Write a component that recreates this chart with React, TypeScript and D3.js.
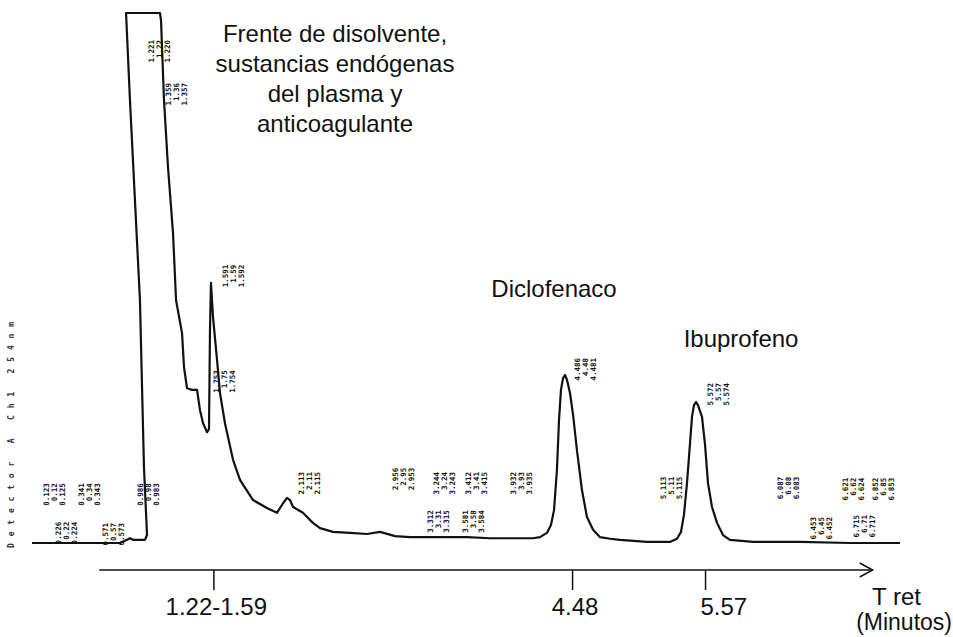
import React from "react";
import * as d3 from "d3";

// Retention time (min) and detector signal (% of full scale)
const times = [
  0.049, 0.279, 0.525, 0.77, 0.828, 0.852, 0.877, 0.975, 0.992, 0.967, 0.934, 0.893, 0.852, 0.82,
  1.098, 1.107, 1.131, 1.164, 1.205, 1.23, 1.279, 1.295, 1.32, 1.361, 1.402, 1.426, 1.451, 1.484,
  1.5, 1.508, 1.516, 1.533, 1.566, 1.59, 1.631, 1.648, 1.697, 1.754, 1.861, 1.975, 2.057, 2.107,
  2.139, 2.164, 2.189, 2.27, 2.352, 2.41, 2.516, 2.656, 2.795, 2.902, 3.025, 3.148, 3.393, 3.615,
  3.803, 4.156, 4.213, 4.27, 4.303, 4.328, 4.352, 4.369, 4.385, 4.402, 4.418, 4.434, 4.459, 4.484,
  4.516, 4.557, 4.598, 4.648, 4.705, 4.787, 4.869, 5.09, 5.279, 5.336, 5.369, 5.393, 5.418, 5.443,
  5.459, 5.475, 5.492, 5.508, 5.541, 5.566, 5.59, 5.623, 5.664, 5.713, 5.77, 5.959, 6.344, 6.754,
  7.164,
];
const signal = [
  0, 0, 0, 0, 0.6, 0.9, 0.6, 0.6, 1.5, 14.3, 45.8, 64.7, 83.6, 100,
  100, 98.5, 83.6, 70.9, 58.5, 45.8, 39.6, 33.2, 29.2, 28.9, 28.9, 25.1, 22.6, 20.9,
  21.5, 40, 49.1, 42.6, 34.5, 28.3, 22.6, 20.8, 15.7, 11.9, 8.1, 6.6, 5.7, 7.5,
  8.5, 8.1, 6.8, 5.7, 3.8, 2.8, 2.1, 1.9, 1.7, 2.1, 1.3, 1.1, 1.1, 1.1,
  0.9, 0.9, 1.1, 1.9, 3.4, 6.2, 13.8, 23.2, 28.9, 31.1, 31.7, 30.8, 28.3, 24.2,
  17.5, 10.0, 4.9, 2.5, 1.1, 0.8, 0.6, 0.2, 0.2, 0.8, 2.1, 5.3, 11.3, 18.9,
  23.8, 26.0, 26.6, 26.0, 23.8, 18.5, 11.3, 6.8, 3.8, 1.5, 0.6, 0.2, 0.2, 0,
  0,
];

// x-axis ticks
const tickTimes = [1.54, 4.48, 5.57];
const tickLabels = ["1.22-1.59", "4.48", "5.57"];
const tickLabelTimes = [1.56, 4.5, 5.72];

// Compound labels
const compoundLines = [
  ["Frente de disolvente,", "sustancias endógenas", "del plasma y", "anticoagulante"],
  ["Diclofenaco"],
  ["Ibuprofeno"],
];
const compoundTimes = [2.533, 4.328, 5.861];
const compoundLevels = [94.5, 46.4, 37.0];

// Integrator retention-time printouts (rotated, small)
const annotTimes = [
  1.0, 1.139, 1.607, 1.533, 2.23, 3.0, 3.336, 3.6, 3.287, 3.574, 3.967, 4.492, 5.197, 5.582,
  6.156, 6.689, 6.934, 6.426, 6.779, 0.139, 0.426, 0.91, 0.238, 0.623,
];
const annotLevels = [
  94.9, 86.8, 52.5, 32.6, 13.4, 14.2, 13.4, 13.4, 6.2, 6.2, 13.4, 34.9, 12.5, 30.2,
  12.5, 12.3, 12.3, 4.9, 5.3, 11.3, 11.3, 11.3, 4.0, 3.8,
];
const annotTexts = [
  "1.221|1.22|1.220", "1.359|1.36|1.357", "1.591|1.59|1.592", "1.753|1.75|1.754",
  "2.113|2.11|2.115", "2.956|2.95|2.953", "3.244|3.24|3.243", "3.412|3.41|3.415",
  "3.312|3.31|3.315", "3.581|3.58|3.584", "3.932|3.93|3.935", "4.486|4.48|4.481",
  "5.113|5.11|5.115", "5.572|5.57|5.574", "6.087|6.08|6.083", "6.621|6.62|6.624",
  "6.852|6.85|6.853", "6.453|6.45|6.452", "6.715|6.71|6.717", "0.123|0.12|0.125",
  "0.341|0.34|0.343", "0.986|0.98|0.983", "0.226|0.22|0.224", "0.571|0.57|0.573",
];

const axisStart = 0.6;
const axisEnd = 6.94;

const W = 953;
const H = 637;
const AXIS_Y = 570;
const FONT = "'Liberation Sans', Arial, sans-serif";

export default function App() {
  const x = d3.scaleLinear().domain([0, 7]).range([26, 880]);
  const y = d3.scaleLinear().domain([0, 100]).range([543, 13]);

  const idx = d3.range(times.length);
  const line = d3
    .line<number>()
    .x((i) => x(times[i]))
    .y((i) => y(signal[i]))
    .curve(d3.curveLinear);

  const ax0 = x(axisStart);
  const ax1 = x(axisEnd);

  return (
    <svg
      width={W}
      height={H}
      style={{ position: "absolute", left: 0, top: 0, background: "#fff" }}
    >
      <rect width={W} height={H} fill="#fff" />

      {/* far-left faded vertical printout */}
      <text
        transform={`translate(14,548) rotate(-90)`}
        fontFamily="'DejaVu Sans Mono', monospace"
        fontSize={8}
        fontWeight="bold"
        fill="#333"
        textLength={226}
        lengthAdjust="spacing"
      >
        Detector A Ch1 254nm
      </text>

      {/* integrator annotations */}
      {annotTexts.map((s, k) => (
        <text
          key={k}
          transform={`translate(${x(annotTimes[k])},${y(annotLevels[k])}) rotate(-90)`}
          textAnchor="end"
          fontFamily="'DejaVu Sans Mono', monospace"
          fontSize={7.5}
          fontWeight="bold"
          fill="#111"
        >
          {s.split("|").map((l, j) => (
            <tspan key={j} x={0} dy={j === 0 ? 6 : 8}>
              {l}
            </tspan>
          ))}
        </text>
      ))}

      {/* chromatogram trace */}
      <path
        d={line(idx) || ""}
        fill="none"
        stroke="#111"
        strokeWidth={2.2}
        strokeLinejoin="round"
      />

      {/* x axis with arrow */}
      <line x1={ax0} y1={AXIS_Y} x2={ax1} y2={AXIS_Y} stroke="#111" strokeWidth={1.5} />
      <polyline
        points={`${ax1 - 13},${AXIS_Y - 7} ${ax1},${AXIS_Y} ${ax1 - 13},${AXIS_Y + 7}`}
        fill="none"
        stroke="#111"
        strokeWidth={1.5}
      />
      {tickTimes.map((t, k) => (
        <g key={k}>
          <line x1={x(t)} x2={x(t)} y1={AXIS_Y} y2={AXIS_Y + 20} stroke="#111" strokeWidth={1.5} />
          <text
            x={x(tickLabelTimes[k])}
            y={615}
            textAnchor="middle"
            fontFamily={FONT}
            fontSize={24}
            fill="#111"
          >
            {tickLabels[k]}
          </text>
        </g>
      ))}
      <text x={872} y={605} fontFamily={FONT} fontSize={24} fill="#111">
        T ret
      </text>
      <text x={952} y={630} textAnchor="end" fontFamily={FONT} fontSize={23} fill="#111">
        (Minutos)
      </text>

      {/* compound labels */}
      {compoundLines.map((lines, k) => (
        <text
          key={k}
          x={x(compoundTimes[k])}
          y={y(compoundLevels[k])}
          textAnchor="middle"
          fontFamily={FONT}
          fontSize={24}
          fill="#111"
        >
          {lines.map((l, j) => (
            <tspan key={j} x={x(compoundTimes[k])} dy={j === 0 ? 0 : 30}>
              {l}
            </tspan>
          ))}
        </text>
      ))}
    </svg>
  );
}
